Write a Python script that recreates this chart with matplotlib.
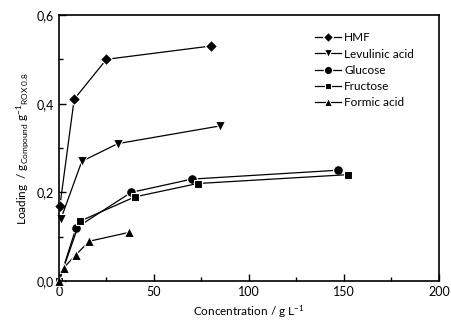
import matplotlib.pyplot as plt
from matplotlib.ticker import MultipleLocator, FuncFormatter

plt.rcParams['font.family'] = ['Lato', 'DejaVu Sans']
plt.rcParams['mathtext.fontset'] = 'custom'
plt.rcParams['mathtext.rm'] = 'Lato'
plt.rcParams['mathtext.it'] = 'Lato'

# data
hmf_x = [0.5, 8, 25, 80]
hmf_y = [0.17, 0.41, 0.50, 0.53]
lev_x = [1, 12, 31, 85]
lev_y = [0.14, 0.27, 0.31, 0.35]
glu_x = [0, 9, 38, 70, 147]
glu_y = [0.0, 0.12, 0.20, 0.23, 0.25]
fru_x = [0, 11, 40, 73, 152]
fru_y = [0.0, 0.135, 0.19, 0.22, 0.24]
for_x = [0, 2.5, 9, 16, 37]
for_y = [0.0, 0.03, 0.06, 0.09, 0.11]

series = [
    ("HMF", hmf_x, hmf_y, "D", 6.5),
    ("Levulinic acid", lev_x, lev_y, "v", 7.5),
    ("Glucose", glu_x, glu_y, "o", 7),
    ("Fructose", fru_x, fru_y, "s", 5.8),
    ("Formic acid", for_x, for_y, "^", 7.5),
]

fig = plt.figure(figsize=(4.52, 3.25), dpi=100)
ax = fig.add_axes([0.1305, 0.135, 0.8405, 0.819])

for name, x, y, m, ms in series:
    ax.plot(x, y, color="black", lw=0.9, marker=m, ms=ms,
            mfc="black", mec="white", mew=0.8, label=name, clip_on=False)

ax.set_xlim(0, 200)
ax.set_ylim(0, 0.6)
ax.xaxis.set_major_locator(MultipleLocator(50))
ax.xaxis.set_minor_locator(MultipleLocator(25))
ax.yaxis.set_major_locator(MultipleLocator(0.2))
ax.yaxis.set_minor_locator(MultipleLocator(0.1))
ax.yaxis.set_major_formatter(FuncFormatter(lambda v, p: f"{v:.1f}".replace(".", ",")))
ax.tick_params(which="both", direction="in", top=False, right=False, labelsize=9)
ax.tick_params(which="major", length=5, width=1)
ax.tick_params(which="minor", length=3, width=1)
for s in ax.spines.values():
    s.set_linewidth(1.2)

ax.set_xlabel("Concentration / g L$^{-1}$", fontsize=8.5, labelpad=4)
ax.set_ylabel("Loading  / g$_{\\mathrm{Compound}}$ g$^{-1}$$_{\\mathrm{ROX\\ 0.8}}$",
              fontsize=8.5, labelpad=4)

ax.legend(loc="upper left", bbox_to_anchor=(0.645, 0.975), frameon=False, fontsize=8.5,
          handlelength=2.2, handletextpad=0.3, labelspacing=0.45, markerscale=0.85)

fig.savefig("out.png", dpi=100)
